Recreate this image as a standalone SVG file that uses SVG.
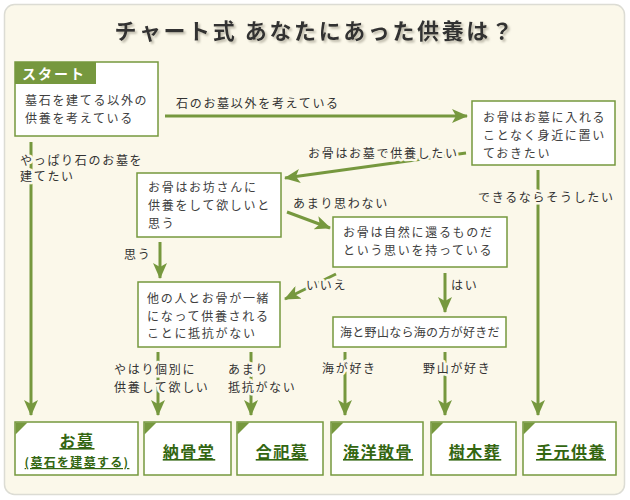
<svg xmlns="http://www.w3.org/2000/svg" width="630" height="500" viewBox="0 0 630 500">
<defs>
<marker id="ah" markerUnits="userSpaceOnUse" markerWidth="16" markerHeight="14" viewBox="0 0 16 14" refX="15" refY="7" orient="auto">
<path d="M0,0 L16,7 L0,14 L4,7 Z" fill="#76983e"/>
</marker>
<filter id="sh" x="-5%" y="-20%" width="110%" height="150%">
<feDropShadow dx="2" dy="2" stdDeviation="0.8" flood-color="#b8b4a4" flood-opacity="0.9"/>
</filter>
</defs>
<style>
.t{font-family:"Noto Sans CJK JP","Noto Sans",sans-serif;font-size:12px;letter-spacing:1.7px;fill:#404040}
.lb{font-family:"Noto Sans CJK JP","Noto Sans",sans-serif;font-size:12px;letter-spacing:1.7px;fill:#333;stroke:#fbf8ea;stroke-width:5px;paint-order:stroke;stroke-linejoin:round}
.box{fill:#fff;stroke:#76983e;stroke-width:1.5}
.ln{stroke:#76983e;stroke-width:3;fill:none}
.res{font-family:"Noto Sans CJK JP","Noto Sans",sans-serif;font-weight:700;font-size:16px;letter-spacing:1.5px;fill:#336611;text-anchor:middle;text-decoration:underline}
.tri{fill:#76983e}
</style>
<rect x="0" y="0" width="630" height="500" fill="#fff"/>
<rect x="4.5" y="4.5" width="620" height="490" rx="10" fill="#fbf8ea" stroke="#dcdcd4" stroke-width="1.5"/>
<text x="315" y="39" text-anchor="middle" font-family="'Noto Sans CJK JP',sans-serif" font-weight="700" font-size="22" letter-spacing="2.6" fill="#333" filter="url(#sh)">チャート式 あなたにあった供養は？</text>

<g id="connectors">
<line class="ln" x1="165" y1="116" x2="467" y2="116" marker-end="url(#ah)"/>
<text class="lb" x="176" y="108">石のお墓以外を考えている</text>
<line class="ln" x1="31" y1="142" x2="31" y2="415" marker-end="url(#ah)"/>
<text class="lb" x="20" y="165">やっぱり石のお墓を</text>
<text class="lb" x="20" y="181">建てたい</text>
<line class="ln" x1="538" y1="170" x2="538" y2="415" marker-end="url(#ah)"/>
<text class="lb" x="478" y="202">できるならそうしたい</text>
<line class="ln" x1="466" y1="153" x2="285" y2="178" marker-end="url(#ah)"/>
<text class="lb" x="308" y="158">お骨はお墓で供養したい</text>
<line class="ln" x1="287" y1="212" x2="330" y2="228" marker-end="url(#ah)"/>
<text class="lb" x="293" y="208">あまり思わない</text>
<line class="ln" x1="160" y1="242" x2="160" y2="278" marker-end="url(#ah)"/>
<text class="lb" x="124" y="259">思う</text>
<line class="ln" x1="445" y1="273" x2="445" y2="312" marker-end="url(#ah)"/>
<text class="lb" x="451" y="290">はい</text>
<line class="ln" x1="336" y1="274" x2="285" y2="299" marker-end="url(#ah)"/>
<text class="lb" x="306" y="290">いいえ</text>
<line class="ln" x1="158" y1="352" x2="158" y2="415" marker-end="url(#ah)"/>
<line class="ln" x1="251" y1="352" x2="251" y2="415" marker-end="url(#ah)"/>
<text class="lb" x="114" y="374">やはり個別に</text>
<text class="lb" x="114" y="392">供養して欲しい</text>
<text class="lb" x="228" y="374">あまり</text>
<text class="lb" x="228" y="392">抵抗がない</text>
<line class="ln" x1="345" y1="352" x2="345" y2="415" marker-end="url(#ah)"/>
<line class="ln" x1="445" y1="352" x2="445" y2="415" marker-end="url(#ah)"/>
<text class="lb" x="322" y="373">海が好き</text>
<text class="lb" x="423" y="373">野山が好き</text>
</g>

<g id="start">
<rect class="box" x="15" y="62" width="143" height="74"/>
<rect x="15" y="62" width="81" height="22" fill="#76983e"/>
<text x="22" y="79" font-family="'Noto Sans CJK JP',sans-serif" font-weight="700" font-size="14" letter-spacing="2" fill="#fff">スタート</text>
<text class="t" x="25" y="105">墓石を建てる以外の</text>
<text class="t" x="25" y="123">供養を考えている</text>
</g>
<g id="q-keep">
<rect class="box" x="472" y="101" width="143" height="64"/>
<text class="t" x="483" y="122">お骨はお墓に入れる</text>
<text class="t" x="483" y="140">ことなく身近に置い</text>
<text class="t" x="483" y="158">ておきたい</text>
</g>
<g id="q-monk">
<rect class="box" x="137" y="173" width="144" height="64"/>
<text class="t" x="148" y="192">お骨はお坊さんに</text>
<text class="t" x="148" y="210">供養をして欲しいと</text>
<text class="t" x="148" y="228">思う</text>
</g>
<g id="q-nature">
<rect class="box" x="333" y="217" width="174" height="50"/>
<text class="t" x="343" y="237">お骨は自然に還るものだ</text>
<text class="t" x="343" y="255">という思いを持っている</text>
</g>
<g id="q-shared">
<rect class="box" x="138" y="282" width="142" height="65"/>
<text class="t" x="147" y="303">他の人とお骨が一緒</text>
<text class="t" x="147" y="321">になって供養される</text>
<text class="t" x="147" y="338">ことに抵抗がない</text>
</g>
<g id="q-sea">
<rect class="box" x="333" y="317" width="173" height="30"/>
<text class="t" x="340" y="337" style="letter-spacing:0.3px">海と野山なら海の方が好きだ</text>
</g>

<g id="r-ohaka">
<rect class="box" x="15" y="422" width="123" height="53"/>
<path class="tri" d="M15.5,422.5 h12 l-12,12 z"/>
<text class="res" x="77" y="447">お墓</text>
<text class="res" x="77" y="467" style="font-size:12px;letter-spacing:1.3px">(墓石を建墓する)</text>
</g>
<g id="r-noukotsudo">
<rect class="box" x="144" y="422" width="87" height="53"/>
<path class="tri" d="M144.5,422.5 h12 l-12,12 z"/>
<text class="res" x="189" y="458">納骨堂</text>
</g>
<g id="r-goshibo">
<rect class="box" x="237" y="422" width="86" height="53"/>
<path class="tri" d="M237.5,422.5 h12 l-12,12 z"/>
<text class="res" x="282" y="458">合祀墓</text>
</g>
<g id="r-sankotsu">
<rect class="box" x="331" y="422" width="92" height="53"/>
<path class="tri" d="M331.5,422.5 h12 l-12,12 z"/>
<text class="res" x="378" y="458">海洋散骨</text>
</g>
<g id="r-jumokuso">
<rect class="box" x="431" y="422" width="85" height="53"/>
<path class="tri" d="M431.5,422.5 h12 l-12,12 z"/>
<text class="res" x="475" y="458">樹木葬</text>
</g>
<g id="r-temoto">
<rect class="box" x="523" y="422" width="93" height="53"/>
<path class="tri" d="M523.5,422.5 h12 l-12,12 z"/>
<text class="res" x="571" y="458">手元供養</text>
</g>
</svg>
